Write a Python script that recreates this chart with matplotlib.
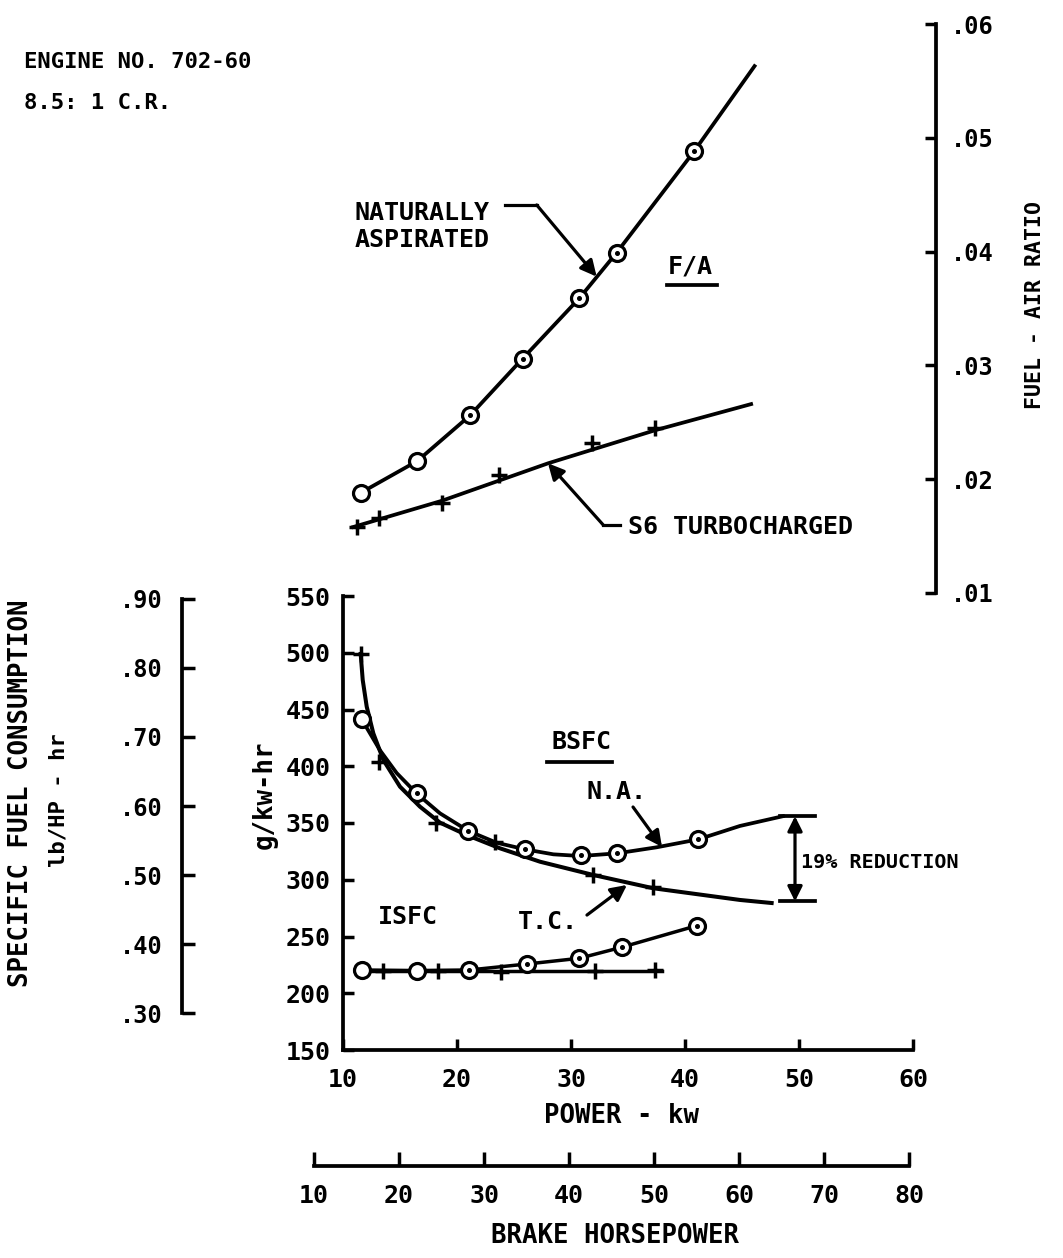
import matplotlib
matplotlib.use("Agg")
import matplotlib.pyplot as plt

# values, power in kW
# fuel-air ratio
fa_na_kw = [11.55, 16.52, 21.14, 25.76, 30.73, 34.0, 40.79]
fa_na = [0.0188, 0.0216, 0.0256, 0.0306, 0.0359, 0.0399, 0.0488]
fa_na_curve_kw = [11.55, 16.52, 21.14, 25.76, 30.73, 34.0, 40.79, 46.1]
fa_na_curve = [0.0188, 0.0216, 0.0256, 0.0306, 0.0359, 0.0399, 0.0488, 0.0563]

fa_tc_kw = [11.2, 13.19, 18.66, 23.71, 31.81, 37.37]
fa_tc = [0.0158, 0.0166, 0.0179, 0.0204, 0.0232, 0.0245]
fa_tc_curve_kw = [10.9, 18.66, 28.0, 37.37, 45.8]
fa_tc_curve = [0.0158, 0.0181, 0.0214, 0.0243, 0.0266]

# brake specific fuel consumption, g/kw-hr
bsfc_na_kw = [11.64, 16.46, 21.0, 25.96, 30.85, 34.06, 41.17]
bsfc_na = [442, 376, 343, 327, 322, 324, 336]
bsfc_na_curve_kw = [11.78, 13.25, 14.71, 16.46, 18.51, 21.0, 23.48, 25.96,
                    28.45, 30.85, 34.06, 37.52, 41.17, 44.82, 48.6]
bsfc_na_curve = [439, 414, 394, 376, 358.5, 343, 332.6, 326.8,
                 322.4, 320.9, 323.3, 328.6, 335.6, 347.4, 356]

bsfc_tc_kw = [11.55, 13.19, 18.2, 23.33, 31.96, 37.2]
bsfc_tc = [499, 404, 350, 333, 304, 294]
bsfc_tc_curve_kw = [11.55, 11.73, 12.08, 12.66, 13.54, 15.0, 16.75, 18.51,
                    20.85, 23.77, 27.28, 31.96, 37.22, 44.82, 47.6]
bsfc_tc_curve = [499, 476, 452.5, 429, 405.5, 382, 364.4, 350.3,
                 339.4, 327.7, 315.9, 304.2, 292.5, 282.2, 279.5]

# indicated specific fuel consumption
isfc_na_kw = [11.64, 16.46, 21.08, 26.17, 30.73, 34.44, 41.02]
isfc_na = [220.5, 220, 220.5, 225.8, 230.8, 240.5, 259.5]
isfc_tc_kw = [11.64, 13.54, 18.36, 23.9, 32.1, 37.37]
isfc_tc = [220.5, 219.2, 219.2, 218.3, 219.2, 220.5]
isfc_tc_curve_kw = [11.05, 37.95]
isfc_tc_curve = [220, 220]

reduction_top = 356
reduction_bottom = 281

kw_ticks = [10, 20, 30, 40, 50, 60]
g_ticks = [150, 200, 250, 300, 350, 400, 450, 500, 550]
fa_ticks = [0.01, 0.02, 0.03, 0.04, 0.05, 0.06]
fa_labels = [".01", ".02", ".03", ".04", ".05", ".06"]
sfc_ticks = [0.30, 0.40, 0.50, 0.60, 0.70, 0.80, 0.90]
sfc_labels = [".30", ".40", ".50", ".60", ".70", ".80", ".90"]
hp_ticks = [10, 20, 30, 40, 50, 60, 70, 80]

G_PER_LB_HP = 608.28
HP_PER_KW = 1.341

plt.rcParams["font.family"] = ["DejaVu Sans Mono", "DejaVu Sans"]
plt.rcParams["font.weight"] = "bold"

W, H = 1063, 1258
fig = plt.figure(figsize=(W / 100, H / 100), dpi=100)


def rect(x0, y0, x1, y1):
    return [x0 / W, 1 - y1 / H, (x1 - x0) / W, (y1 - y0) / H]


X0, X1 = 343, 913  # pixel span of 10..60 kW
def kw_px(kw):
    return X0 + (kw - 10) * (X1 - X0) / 50

def px_kw(px):
    return 10 + (px - X0) * 50 / (X1 - X0)


LW = 2.7
K = "black"


def clean(a, keep):
    for name, s in a.spines.items():
        s.set_linewidth(LW)
        s.set_visible(name in keep)
    a.patch.set_visible(False)


def circles(a, xs, ys, dot_from):
    a.plot(xs, ys, ls="none", marker="o", ms=11.5, mfc="white", mec=K, mew=2.3, zorder=4)
    a.plot(xs[dot_from:], ys[dot_from:], ls="none", marker="o", ms=2.6, color=K, zorder=5)


def crosses(a, xs, ys):
    a.plot(xs, ys, ls="none", marker="+", ms=12, mew=2.5, color=K, zorder=3)


def arrow(a, tip, tail):
    a.annotate("", xy=tip, xytext=tail,
               arrowprops=dict(arrowstyle="-|>", lw=2.3, color=K, mutation_scale=24,
                               shrinkA=0, shrinkB=0))


# main SFC axes
ax = fig.add_axes(rect(X0, 596, X1, 1050))
clean(ax, ["left", "bottom"])
ax.set_xlim(10, 60)
ax.set_ylim(150, 550)
ax.set_xticks(kw_ticks)
ax.set_yticks(g_ticks)
ax.tick_params(direction="in", length=8, width=2.5, labelsize=18)
ax.tick_params(axis="x", pad=13)
ax.tick_params(axis="y", pad=9)

ax.plot(bsfc_na_curve_kw, bsfc_na_curve, color=K, lw=2.7, zorder=2)
ax.plot(bsfc_tc_curve_kw, bsfc_tc_curve, color=K, lw=2.9, zorder=2)
ax.plot(isfc_na_kw, isfc_na, color=K, lw=2.5, zorder=2)
ax.plot(isfc_tc_curve_kw, isfc_tc_curve, color=K, lw=2.5, zorder=2)
circles(ax, bsfc_na_kw, bsfc_na, 1)
circles(ax, isfc_na_kw, isfc_na, 2)
crosses(ax, bsfc_tc_kw, bsfc_tc)
crosses(ax, isfc_tc_kw, isfc_tc)

ax.text(30.96, 421, "BSFC", fontsize=18, ha="center", va="center")
ax.plot([27.9, 33.6], [403.7, 403.7], color=K, lw=2.7)
ax.text(34.0, 377, "N.A.", fontsize=18, ha="center", va="center")
arrow(ax, (37.98, 328.9), (35.44, 364.1))
ax.text(27.98, 263, "T.C.", fontsize=18, ha="center", va="center")
arrow(ax, (34.91, 295.4), (31.4, 268.9))
ax.text(15.7, 267, "ISFC", fontsize=18, ha="center", va="center")

# 19% reduction bracket
bx = px_kw(795)
ax.plot([px_kw(780), px_kw(815)], [reduction_top, reduction_top], color=K, lw=2.7)
ax.plot([px_kw(780), px_kw(815)], [reduction_bottom, reduction_bottom], color=K, lw=2.7)
ax.annotate("", xy=(bx, reduction_top), xytext=(bx, reduction_bottom),
            arrowprops=dict(arrowstyle="<|-|>", lw=2.3, color=K, mutation_scale=22,
                            shrinkA=0, shrinkB=0))
ax.text(px_kw(801), (reduction_top + reduction_bottom) / 2 - 3, "19% REDUCTION",
        fontsize=14.5, ha="left", va="center")

# fuel-air ratio axes, same kW scale
fa_right = 936
ax_fa = fig.add_axes(rect(X0, 24, fa_right, 593))
clean(ax_fa, ["right"])
ax_fa.set_xlim(10, px_kw(fa_right))
ax_fa.set_ylim(0.01, 0.06)
ax_fa.xaxis.set_visible(False)
ax_fa.yaxis.tick_right()
ax_fa.set_yticks(fa_ticks)
ax_fa.set_yticklabels(fa_labels)
ax_fa.tick_params(direction="in", length=8, width=2.5, labelsize=17, pad=11)

ax_fa.plot(fa_na_curve_kw, fa_na_curve, color=K, lw=2.7, zorder=2)
ax_fa.plot(fa_tc_curve_kw, fa_tc_curve, color=K, lw=2.7, zorder=2)
circles(ax_fa, fa_na_kw, fa_na, 2)
crosses(ax_fa, fa_tc_kw, fa_tc)

ax_fa.text(11.05, 0.0422, "NATURALLY\nASPIRATED", fontsize=18, ha="left", va="center",
           linespacing=1.15)
ax_fa.plot([24.21, 26.99], [0.0441, 0.0441], color=K, lw=2.3)
arrow(ax_fa, (32.25, 0.0378), (26.99, 0.0441))
ax_fa.text(40.44, 0.0387, "F/A", fontsize=18, ha="center", va="center")
ax_fa.plot([38.42, 42.81], [0.0371, 0.0371], color=K, lw=2.7)
arrow(ax_fa, (27.98, 0.0214), (32.81, 0.0160))
ax_fa.plot([32.81, 34.3], [0.0160, 0.0160], color=K, lw=2.3)
ax_fa.text(35.0, 0.0158, "S6 TURBOCHARGED", fontsize=18, ha="left", va="center")

# lb/HP-hr scale on the left
ax_lb = fig.add_axes(rect(182, 596, 184, 1050))
clean(ax_lb, ["left"])
ax_lb.set_ylim(150 / G_PER_LB_HP, 550 / G_PER_LB_HP)
ax_lb.spines["left"].set_bounds(0.30, 0.90)
ax_lb.xaxis.set_visible(False)
ax_lb.set_yticks(sfc_ticks)
ax_lb.set_yticklabels(sfc_labels)
ax_lb.tick_params(direction="in", length=9, width=2.5, labelsize=17, pad=14)

# brake horsepower scale below
hp_lo, hp_hi = hp_ticks[0], hp_ticks[-1]
ax_hp = fig.add_axes(rect(kw_px(hp_lo / HP_PER_KW), 1164, kw_px(hp_hi / HP_PER_KW), 1166))
clean(ax_hp, ["bottom"])
ax_hp.set_xlim(hp_lo, hp_hi)
ax_hp.yaxis.set_visible(False)
ax_hp.set_xticks(hp_ticks)
ax_hp.tick_params(direction="in", length=10, width=2.5, labelsize=18, pad=13)

# labels and notes
fig.text(24 / W, 1 - 62 / H, "ENGINE NO. 702-60", fontsize=16, va="center")
fig.text(24 / W, 1 - 103 / H, "8.5: 1 C.R.", fontsize=16, va="center")
fig.text(21 / W, 1 - 793 / H, "SPECIFIC FUEL CONSUMPTION", fontsize=18.5,
         rotation=90, ha="center", va="center")
fig.text(58 / W, 1 - 800 / H, "lb/HP - hr", fontsize=16, rotation=90, ha="center", va="center")
fig.text(265 / W, 1 - 795 / H, "g/kw-hr", fontsize=18.5, rotation=90, ha="center", va="center")
fig.text(1035 / W, 1 - 305 / H, "FUEL - AIR RATIO", fontsize=15.5, rotation=90,
         ha="center", va="center")
fig.text(622 / W, 1 - 1116 / H, "POWER - kw", fontsize=18.5, ha="center", va="center")
fig.text(615 / W, 1 - 1236 / H, "BRAKE HORSEPOWER", fontsize=18.5, ha="center", va="center")

fig.savefig("out.png", dpi=100)
